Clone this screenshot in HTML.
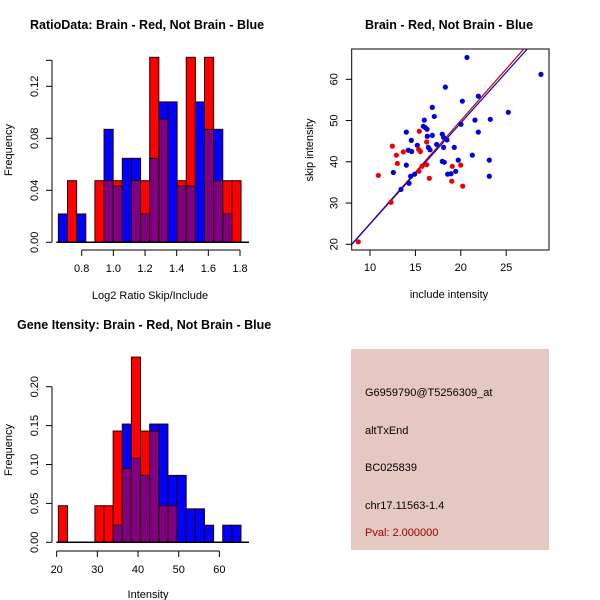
<!DOCTYPE html>
<html><head><meta charset="utf-8"><style>
body{margin:0;background:#fff}
svg{display:block;font-family:"Liberation Sans",sans-serif}
text{font-size:11px;fill:#000}
</style></head><body>
<svg id="c" width="600" height="600">
<text x="30" y="29" style="font-weight:bold;font-size:12.5px">RatioData: Brain - Red, Not Brain - Blue</text>
<text x="150" y="299" text-anchor="middle">Log2 Ratio Skip/Include</text>
<text transform="translate(12,150) rotate(-90)" text-anchor="middle">Frequency</text>
<text x="449" y="29" text-anchor="middle" style="font-weight:bold;font-size:12.5px">Brain - Red, Not Brain - Blue</text>
<text x="449" y="298" text-anchor="middle">include intensity</text>
<text transform="translate(313,150) rotate(-90)" text-anchor="middle">skip intensity</text>
<text x="17" y="329" style="font-weight:bold;font-size:12.5px">Gene Itensity: Brain - Red, Not Brain - Blue</text>
<text x="148" y="598" text-anchor="middle">Intensity</text>
<text transform="translate(12,450) rotate(-90)" text-anchor="middle">Frequency</text>
<g>
<rect x="351" y="349" width="198" height="201" fill="#e6c8c2"/>
<text x="365" y="396">G6959790@T5256309_at</text>
<text x="365" y="434">altTxEnd</text>
<text x="365" y="471">BC025839</text>
<text x="365" y="509">chr17.11563-1.4</text>
<text x="365" y="536" style="fill:#a00000">Pval: 2.000000</text>
</g>
</svg>
<script>
// Ratio histogram data
const ratioBinStart = 0.6526;
const ratioBinWidth = 0.0577;
const ratioRed  = [0,0.0474,0,0,0.0474,0.0474,0.0474,0,0.0474,0.0474,0.1423,0.0946,0,0.0474,0.1423,0,0.1423,0.0474,0.0474,0.0474];
const ratioBlue = [0.0218,0,0.0218,0,0,0.0869,0.0433,0.0646,0.0646,0.0218,0.0646,0.108,0.108,0.0433,0.0433,0.108,0.0869,0.0869,0.0218,0];
const ratioXTicks = [0.8,1.0,1.2,1.4,1.6,1.8];
const ratioXLabels = ["0.8","1.0","1.2","1.4","1.6","1.8"];
const ratioYTicks = [0,0.04,0.08,0.12];
const ratioYLabels = ["0.00","0.04","0.08","0.12"];
// Intensity histogram data
const intBinStart = 20.41;
const intBinWidth = 2.245;
const intRed  = [0.047,0,0,0,0.047,0.047,0.143,0.095,0.238,0.143,0.143,0.047,0.047,0,0,0,0,0,0,0];
const intBlue = [0,0,0,0,0,0,0.022,0.152,0.108,0.086,0.152,0.152,0.086,0.086,0.043,0.043,0.022,0,0.022,0.022];
const intXTicks = [20,30,40,50,60];
const intXLabels = ["20","30","40","50","60"];
const intYTicks = [0,0.05,0.10,0.15,0.20];
const intYLabels = ["0.00","0.05","0.10","0.15","0.20"];
// Scatter data
const blueX = [20.68,28.83,18.30,21.93,20.17,16.86,25.23,17.08,15.98,21.56,23.25,15.87,16.09,16.28,14.0,17.96,21.93,16.31,16.86,18.11,18.48,14.55,17.34,15.21,16.42,19.28,18.11,16.61,14.22,14.59,20.02,21.27,17.96,18.18,19.72,23.14,14.0,12.57,23.14,18.55,18.92,19.44,14.48,14.92,14.30,13.41];
const blueY = [65.3,61.2,58.1,55.9,54.7,53.2,52.0,51.0,50.1,50.1,50.3,48.6,48.3,47.9,47.2,46.7,47.2,46.2,46.4,45.9,45.3,45.2,44.2,44.0,43.5,43.5,43.5,42.9,42.8,42.5,49.1,41.6,40.1,39.9,40.4,40.4,39.2,37.4,36.5,37.0,37.1,37.7,36.5,37.0,34.8,33.3];
const redX = [8.71,10.92,12.31,12.46,12.90,13.01,13.67,15.43,16.24,15.36,15.54,15.73,16.24,15.39,16.53,19.06,19.99,19.0,20.21];
const redY = [20.6,36.7,30.2,43.8,41.6,39.6,42.4,47.4,44.8,43.0,42.5,38.9,39.3,37.7,36.0,38.9,39.2,35.3,34.1];
const fitBlue = [0.43,2.45];
const fitRed = [0.0,2.5];
const scXTicks = [10,15,20,25];
const scXLabels = ["10","15","20","25"];
const scYTicks = [20,30,40,50,60];
const scYLabels = ["20","30","40","50","60"];

const svg = document.getElementById('c');
const NS = 'http://www.w3.org/2000/svg';
function mk(tag, attrs, parent){const e=document.createElementNS(NS,tag);for(const k in attrs)e.setAttribute(k,attrs[k]);(parent||svg).appendChild(e);return e;}

function hist(o){
  const g = mk('g',{});
  
  
  const xs = v => o.x0 + (v - o.xv0) * o.kx;
  const ys = v => o.y0 - v * o.ky;
  for (let i = 0; i < o.red.length; i++) {
    const a = o.bs + i * o.bw, b = a + o.bw;
    const r = o.red[i], bl = o.blue[i];
    const hi = Math.max(r, bl), lo = Math.min(r, bl);
    if (hi > 0) {
      const e = mk('rect',{x:xs(a),y:ys(hi),width:xs(b)-xs(a),height:ys(0)-ys(hi),fill:r>=bl?'#ff0000':'#0000ff',stroke:'#2a0000','stroke-width':1},g);
      
      
    }
    if (lo > 0) {
      const e = mk('rect',{x:xs(a),y:ys(lo),width:xs(b)-xs(a),height:ys(0)-ys(lo),fill:'#7f0080',stroke:'#2a0000','stroke-width':1},g);
      
      
    }
  }
  // x axis
  const xa = mk('g',{});
  
  
  const xt = o.xTicks;
  mk('line',{x1:xs(xt[0]),x2:xs(xt[xt.length-1]),y1:o.xAxisY,y2:o.xAxisY,stroke:'#000'},xa);
  xt.forEach((t,i)=>{
    mk('line',{x1:xs(t),x2:xs(t),y1:o.xAxisY,y2:o.xAxisY+6,stroke:'#000'},xa);
    const tx = mk('text',{x:xs(t),y:o.xAxisY+22,'text-anchor':'middle'},xa);
    tx.textContent = o.xLabels[i];
  });
  // baseline
  mk('line',{x1:xs(o.bs)-2,x2:xs(o.bs+o.bw*o.red.length)+8,y1:ys(0),y2:ys(0),stroke:'#000','stroke-width':1.5},g);
  // y axis
  const ya = mk('g',{});
  
  
  mk('line',{x1:o.yAxisX,x2:o.yAxisX,y1:ys(0),y2:ys(o.yTop),stroke:'#000'},ya);
  const yt = o.yTicks.concat(o.yTop !== o.yTicks[o.yTicks.length-1] ? [o.yTop] : []);
  yt.forEach(t=>mk('line',{x1:o.yAxisX-6,x2:o.yAxisX,y1:ys(t),y2:ys(t),stroke:'#000'},ya));
  o.yTicks.forEach((t,i)=>{
    const tx = mk('text',{transform:`translate(${o.yAxisX-14},${ys(t)}) rotate(-90)`,'text-anchor':'middle'},ya);
    tx.textContent = o.yLabels[i];
  });
}

hist({name:'ratio-histogram',red:ratioRed,blue:ratioBlue,bs:ratioBinStart,bw:ratioBinWidth,
  x0:81.7,xv0:0.8,kx:158.3,y0:242.3,ky:1300,xTicks:ratioXTicks,xLabels:ratioXLabels,xAxisY:250,
  yAxisX:52,yTicks:ratioYTicks,yLabels:ratioYLabels,yTop:0.14});
hist({name:'intensity-histogram',red:intRed,blue:intBlue,bs:intBinStart,bw:intBinWidth,
  x0:56.7,xv0:20,kx:4.067,y0:542.3,ky:778,xTicks:intXTicks,xLabels:intXLabels,xAxisY:551,
  yAxisX:52,yTicks:intYTicks,yLabels:intYLabels,yTop:0.20});

// Scatter
(function(){
  const L=351.7,R=549,T=49,B=250;
  const xs = v => 370 + (v - 10) * 9.08;
  const ys = v => 244.3 - (v - 20) * 4.125;
  const g = mk('g',{});
  
  
  mk('clipPath',{id:'clipsc'},g);
  mk('rect',{x:L,y:T,width:R-L,height:B-T},document.getElementById('clipsc'));
  const box = mk('rect',{x:L,y:T,width:R-L,height:B-T,fill:'none',stroke:'#000'},g);
  
  
  const xv0 = 7.9, xv1 = 29.5;
  [[fitRed,'#cc0000','red-fit-line'],[fitBlue,'#0000cc','blue-fit-line']].forEach(([f,c,n],k)=>{
    const l = mk('line',{x1:xs(xv0),y1:ys(f[0]+f[1]*xv0),x2:xs(xv1),y2:ys(f[0]+f[1]*xv1),stroke:c,'stroke-width':1.2,'clip-path':'url(#clipsc)'},g);
    
    
  });
  blueX.forEach((x,i)=>{
    const p = mk('circle',{cx:xs(x),cy:ys(blueY[i]),r:2.6,fill:'#0000dd'},g);
    
    
  });
  redX.forEach((x,i)=>{
    const p = mk('circle',{cx:xs(x),cy:ys(redY[i]),r:2.6,fill:'#ee0000'},g);
    
    
  });
  const xa = mk('g',{});
  
  
  scXTicks.forEach((t,i)=>{
    mk('line',{x1:xs(t),x2:xs(t),y1:B,y2:B+6,stroke:'#000'},xa);
    const tx = mk('text',{x:xs(t),y:B+21,'text-anchor':'middle'},xa);
    tx.textContent = scXLabels[i];
  });
  const ya = mk('g',{});
  
  
  scYTicks.forEach((t,i)=>{
    mk('line',{x1:L-6,x2:L,y1:ys(t),y2:ys(t),stroke:'#000'},ya);
    const tx = mk('text',{transform:`translate(${L-14},${ys(t)}) rotate(-90)`,'text-anchor':'middle'},ya);
    tx.textContent = scYLabels[i];
  });
})();
</script>
</body></html>
